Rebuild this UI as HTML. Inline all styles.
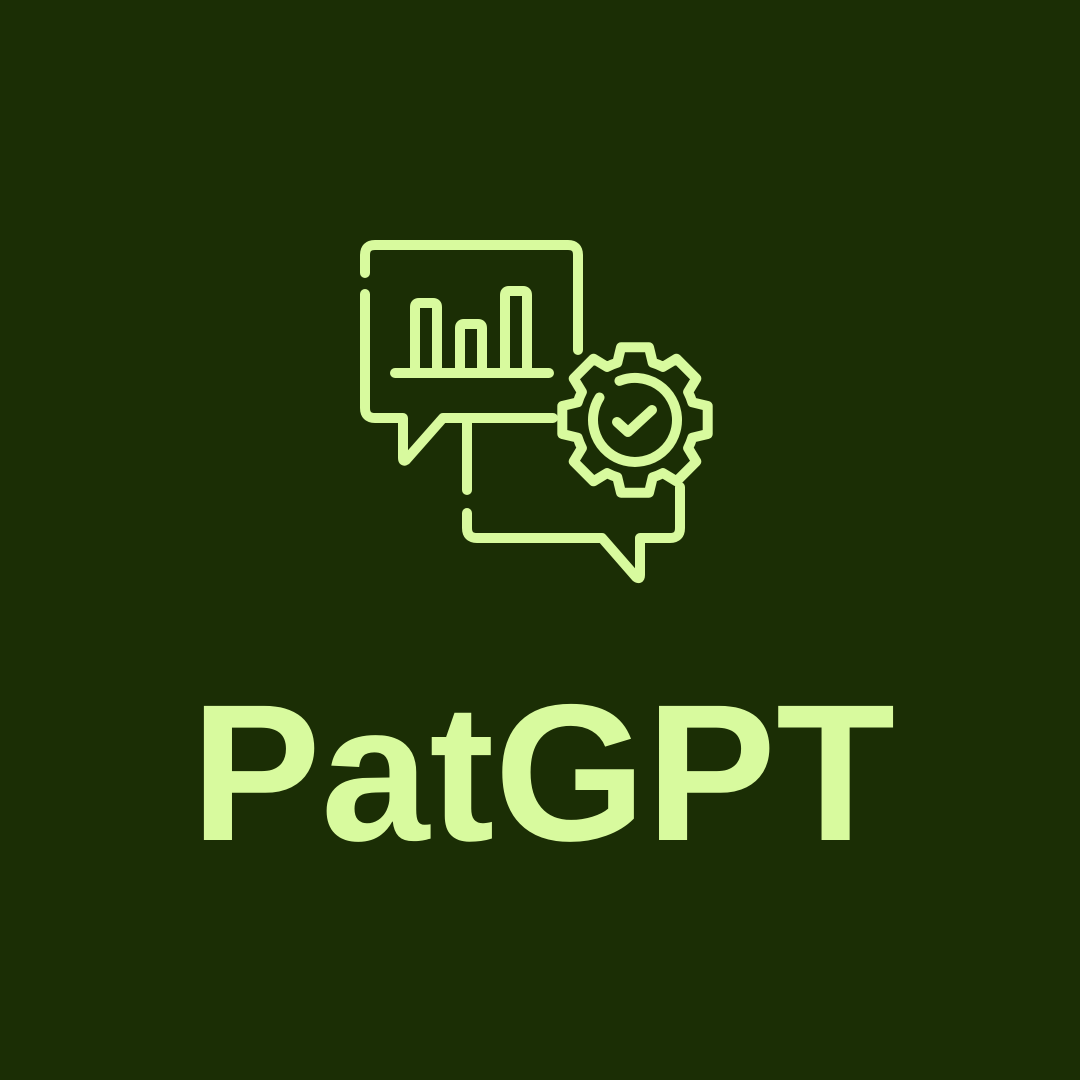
<!DOCTYPE html>
<html><head><meta charset="utf-8"><style>
html,body{margin:0;padding:0;background:#1b2e05;}
svg{display:block}
</style></head><body>
<svg width="1080" height="1080" viewBox="0 0 1080 1080">
<rect width="1080" height="1080" fill="#1b2e05"/>
<g fill="none" stroke="#d8fa9e" stroke-width="10" stroke-linecap="round" stroke-linejoin="round">
  <path d="M365 273 V255 Q365 245 375 245 H568 Q578 245 578 255 V350 M553 418 H443 L406 460 Q403 462 403 458 V418 H375 Q365 418 365 408 V294"/>
  <path d="M395 373 H549"/>
  <path id="bars" d=""/>
  <path d="M467 423 V490"/>
  <path d="M467 513 V528 Q467 538 477 538 H602 L636 577 Q640 580 640 575 V538 H670 Q680 538 680 528 V487"/>
  <path id="gear" d=""/>
  <path id="ring" d=""/>
  <path d="M617 422 L628 432 L652 410"/>
</g>
<text x="543" y="840" text-anchor="middle" font-family="Liberation Sans, sans-serif" font-weight="bold" font-size="195" fill="#d8fa9e">PatGPT</text>
</svg>
<script>
const barLefts=[415,460,505];
const barTops=[303,324,291];
let d='';
barLefts.forEach((x,i)=>{d+=`M${x} 373 V${barTops[i]+4} Q${x} ${barTops[i]} ${x+4} ${barTops[i]} H${x+18} Q${x+22} ${barTops[i]} ${x+22} ${barTops[i]+4} V373 `;});
document.getElementById('bars').setAttribute('d',d);
const cx=635,cy=420,ro=74,ri=60,n=8;
let g='';
for(let i=0;i<n;i++){
  const a=i*Math.PI*2/n;
  const pts=[[ri,a-0.30],[ro,a-0.19],[ro,a+0.19],[ri,a+0.30]];
  pts.forEach((p,j)=>{const x=cx+p[0]*Math.cos(p[1]),y=cy+p[0]*Math.sin(p[1]);g+=(i==0&&j==0?'M':'L')+x.toFixed(1)+' '+y.toFixed(1)+' ';});
  const nx=a+Math.PI*2/n-0.30;
  g+=`A${ri} ${ri} 0 0 1 ${(cx+ri*Math.cos(nx)).toFixed(1)} ${(cy+ri*Math.sin(nx)).toFixed(1)} `;
}
g+='Z';
document.getElementById('gear').setAttribute('d',g);
const r=42,a1=-Math.PI*0.62,a2=-Math.PI*0.82;
const sx=cx+r*Math.cos(a1),sy=cy+r*Math.sin(a1),ex=cx+r*Math.cos(a2),ey=cy+r*Math.sin(a2);
document.getElementById('ring').setAttribute('d',`M${sx.toFixed(1)} ${sy.toFixed(1)} A${r} ${r} 0 1 1 ${ex.toFixed(1)} ${ey.toFixed(1)}`);
</script>
</body></html>
